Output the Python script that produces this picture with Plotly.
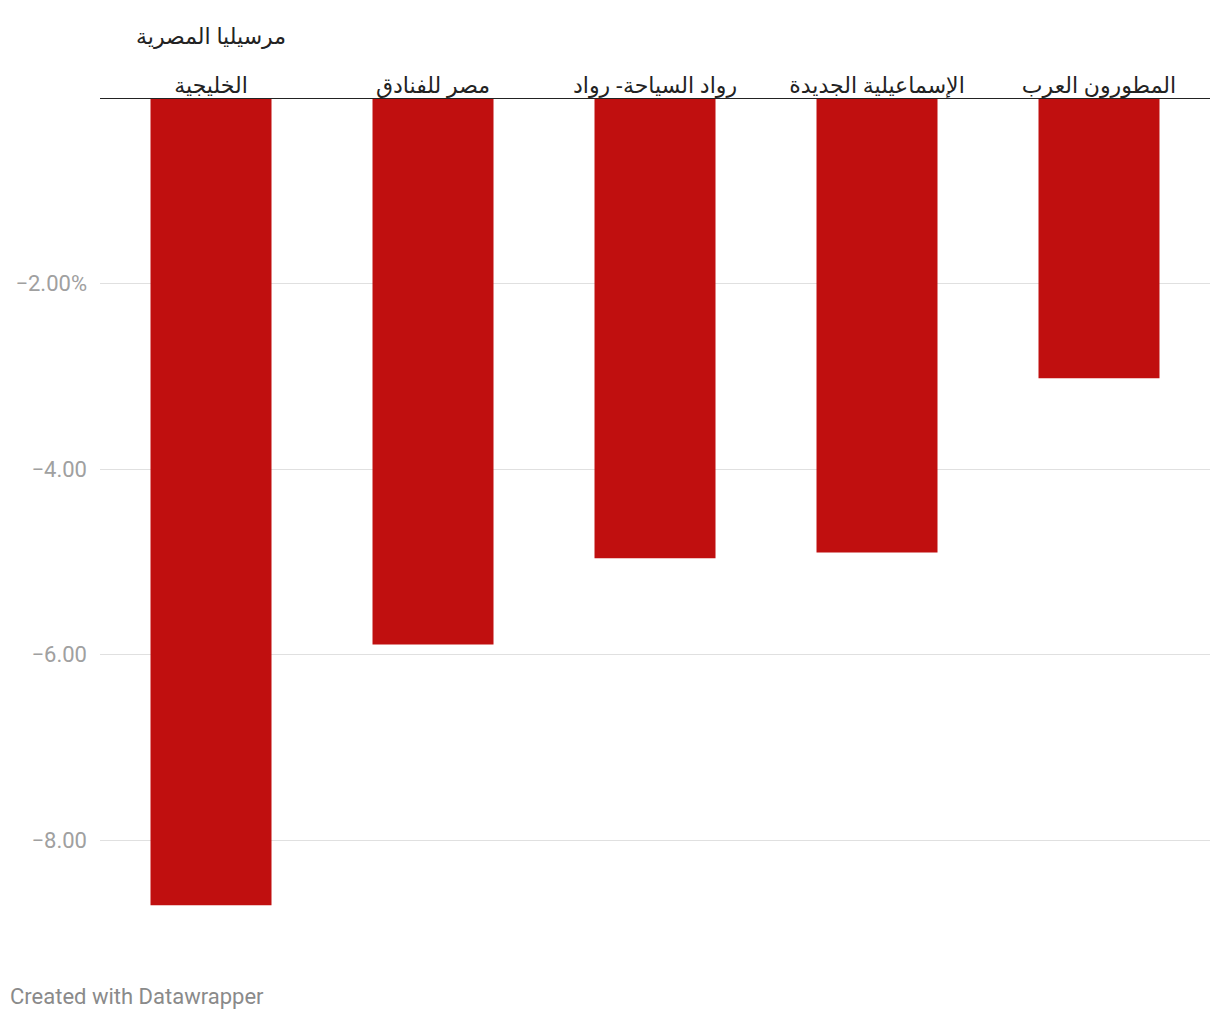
import plotly.graph_objects as go

categories = ["مرسيليا المصرية الخليجية", "مصر للفنادق", "رواد السياحة- رواد", "الإسماعيلية الجديدة", "المطورون العرب"]
label_lines = ["الخليجية", "مصر للفنادق", "رواد السياحة- رواد", "الإسماعيلية الجديدة", "المطورون العرب"]
label_upper = ["مرسيليا المصرية", "", "", "", ""]
values = [-8.70, -5.89, -4.96, -4.90, -3.02]
tick_vals = [-2, -4, -6, -8]
tick_text = ["−2.00%", "−4.00", "−6.00", "−8.00"]

fig = go.Figure()
fig.add_trace(go.Bar(
    x=categories, y=values, marker=dict(color="#c00f0f", line=dict(width=0)),
    width=0.545, hoverinfo="skip"
))

annotations = [dict(text="Created with Datawrapper", xref="paper", yref="paper",
                    x=-0.083, y=-0.0766, xanchor="left", yanchor="middle", showarrow=False,
                    font=dict(family="Roboto", size=22, color="#8a8a8a"))]
for c, u in zip(categories, label_upper):
    if u:
        annotations.append(dict(text=u, x=c, xref="x", yref="paper", y=1.0754,
                                xanchor="center", yanchor="middle", showarrow=False,
                                font=dict(family="Noto Sans, DejaVu Sans", size=22, color="#222")))

fig.update_layout(
    width=1220, height=1020,
    margin=dict(l=100, r=10, t=98, b=87),
    plot_bgcolor="white", paper_bgcolor="white",
    showlegend=False,
    font=dict(family="Roboto, Noto Sans, DejaVu Sans", size=22),
    xaxis=dict(side="top", showgrid=False, ticks="", showline=False,
               tickvals=categories, ticktext=label_lines,
               tickfont=dict(family="Noto Sans, DejaVu Sans", size=22, color="#222"),
               ticklabelstandoff=0),
    yaxis=dict(range=[-9.0, 0], tickvals=tick_vals, ticktext=tick_text,
               showgrid=True, gridcolor="#e0e0e0", gridwidth=1,
               zeroline=False, showline=False, ticks="",
               tickfont=dict(family="Roboto", size=22, color="#a0a0a0"),
               ticklabelstandoff=12),
    shapes=[dict(type="line", xref="paper", yref="y", x0=0, x1=1, y0=0, y1=0,
                 line=dict(color="#222", width=2))],
    annotations=annotations,
)

fig.write_html("out.html", config={"displayModeBar": False},
               post_script="document.body.style.margin='0';")
